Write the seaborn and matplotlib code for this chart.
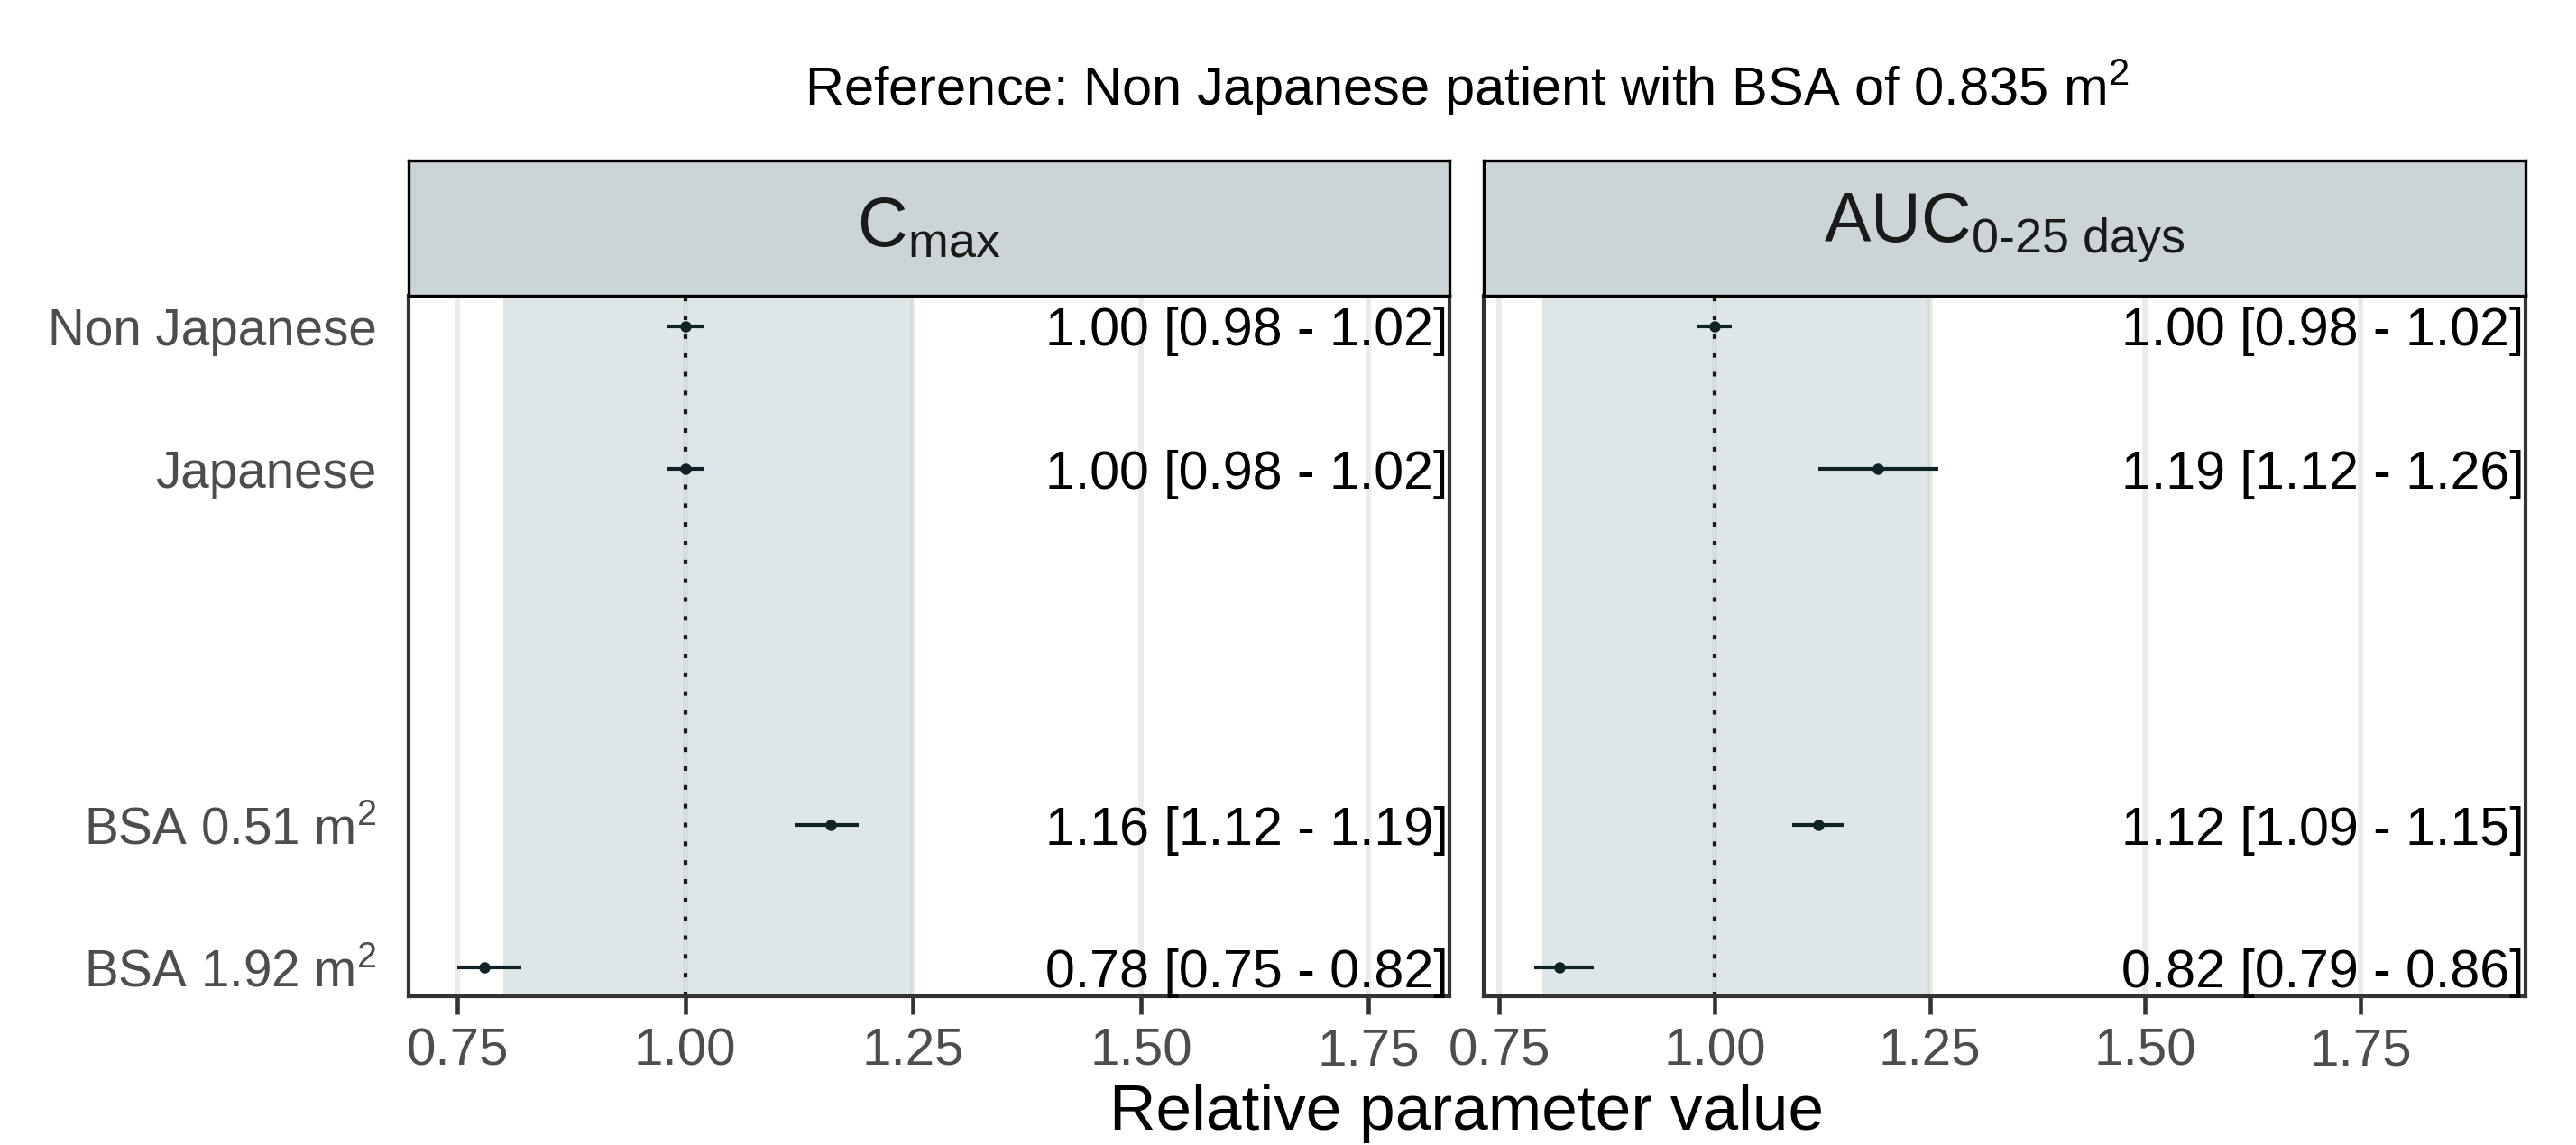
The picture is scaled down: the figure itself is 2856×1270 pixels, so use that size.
import numpy as np
import pandas as pd
import matplotlib
matplotlib.use("Agg")
import matplotlib.pyplot as plt
import seaborn as sns

# ---- data -------------------------------------------------------------
groups = ["Non Japanese", "Japanese", "BSA 0.51 m$^2$", "BSA 1.92 m$^2$"]
group_pos = [0.0, 1.0, 3.5, 4.5]

cmax_est = [1.00, 1.00, 1.16, 0.78]
cmax_lo = [0.98, 0.98, 1.12, 0.75]
cmax_hi = [1.02, 1.02, 1.19, 0.82]

auc_est = [1.00, 1.19, 1.12, 0.82]
auc_lo = [0.98, 1.12, 1.09, 0.79]
auc_hi = [1.02, 1.26, 1.15, 0.86]

panel_titles = [r"C$_{\mathrm{max}}$", r"AUC$_{\text{0-25 days}}$"]
x_ticks = [0.75, 1.00, 1.25, 1.50, 1.75]
band = (0.80, 1.25)

# ---- style ------------------------------------------------------------
sns.set_theme(style="white")
plt.rcParams["font.family"] = ["Liberation Sans", "DejaVu Sans"]
plt.rcParams["mathtext.fontset"] = "custom"
plt.rcParams["mathtext.rm"] = "Liberation Sans"
plt.rcParams["mathtext.it"] = "Liberation Sans:italic"
plt.rcParams["mathtext.bf"] = "Liberation Sans:bold"

W, H = 2856, 1270
fig = plt.figure(figsize=(W / 300, H / 300), dpi=300)

def fx(px):
    return px / W

def fy(px):
    return 1 - px / H

panel_top, panel_bot = 328, 1105
strip_top = 178
panels = [(453, 1607, (0.6964, 1.8387)), (1645, 2800, (0.7317, 1.9418))]

frames = []
for est, lo, hi in [(cmax_est, cmax_lo, cmax_hi), (auc_est, auc_lo, auc_hi)]:
    frames.append(pd.DataFrame({"group": groups, "pos": group_pos,
                                "est": est, "lo": lo, "hi": hi}))

dark = "#0f2327"
for i, ((x0, x1, xlim), df, title) in enumerate(zip(panels, frames, panel_titles)):
    ax = fig.add_axes([fx(x0), fy(panel_bot), fx(x1 - x0), (panel_bot - panel_top) / H])
    ax.set_axisbelow(True)
    ax.set_xlim(*xlim)
    ax.set_ylim(4.70, -0.215)
    ax.set_xticks(x_ticks)
    ax.set_xticklabels([f"{t:.2f}" for t in x_ticks])
    ax.grid(axis="x", color="#ebebeb", lw=1.4)
    ax.grid(axis="y", visible=False)

    ax.axvspan(*band, color="#bfcfd3", alpha=0.5, lw=0, zorder=1)
    ax.axvline(1.0, color="#1a1a1a", lw=1.0, ls=(0, (1.2, 3.8)), zorder=2)

    ax.hlines(df["pos"], df["lo"], df["hi"], color=dark, lw=1.0, zorder=3)
    sns.scatterplot(data=df, x="est", y="pos", ax=ax, color=dark, s=9,
                    linewidth=0, zorder=4, legend=False)

    for _, r in df.iterrows():
        ax.text(0.9985, r["pos"], f"{r['est']:.2f} [{r['lo']:.2f} - {r['hi']:.2f}]",
                transform=ax.get_yaxis_transform(), ha="right", va="center_baseline",
                fontsize=14.2, color="black")

    ax.set_yticks(group_pos)
    if i == 0:
        ax.set_yticklabels(groups)
    else:
        ax.set_yticklabels([])
    ax.tick_params(axis="y", length=0, pad=8.5, labelsize=13.6, labelcolor="#4d4d4d")
    ax.tick_params(axis="x", length=4.8, width=1.1, color="#333333", pad=3.5,
                   labelsize=14, labelcolor="#4d4d4d", bottom=True)
    ax.set_xlabel("")
    ax.set_ylabel("")
    for s in ax.spines.values():
        s.set_visible(True)
        s.set_color("#333333")
        s.set_linewidth(1.0)

    # facet strip
    sax = fig.add_axes([fx(x0), fy(panel_top), fx(x1 - x0), (panel_top - strip_top) / H])
    sax.set_facecolor("#cbd4d7")
    sax.set_xticks([])
    sax.set_yticks([])
    for s in sax.spines.values():
        s.set_visible(True)
        s.set_color("black")
        s.set_linewidth(0.8)
    sax.text(0.5, 0.5, title, transform=sax.transAxes, ha="center", va="center",
             fontsize=18.5, color="#1a1a1a")

fig.text(fx(1626), fy(117), "Reference: Non Japanese patient with BSA of 0.835 m$^2$",
         ha="center", va="baseline", fontsize=14.3, color="black")
fig.text(fx(1626), fy(1253), "Relative parameter value",
         ha="center", va="baseline", fontsize=17.1, color="black")

fig.savefig("out.png", dpi=300)
